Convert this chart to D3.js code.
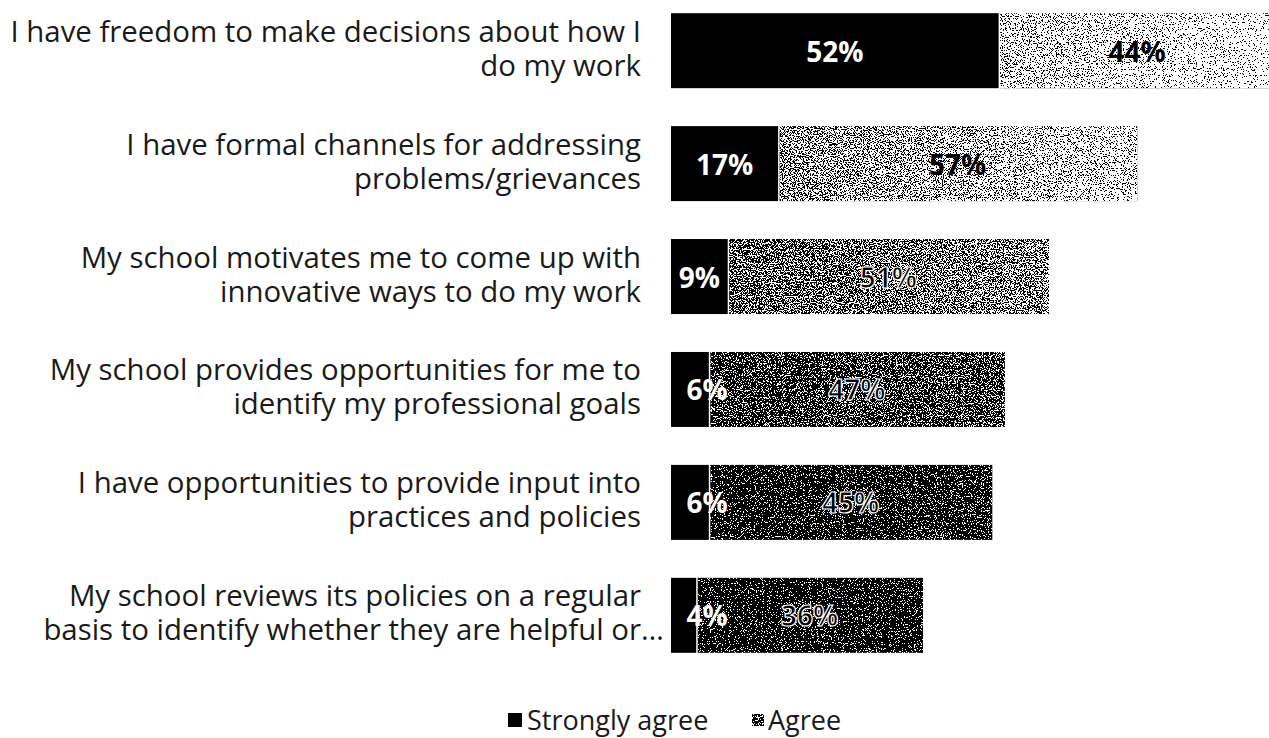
<!DOCTYPE html>
<html>
<head>
<meta charset="utf-8">
<script src="https://cdn.jsdelivr.net/npm/d3@7/dist/d3.min.js"></script>
<style>
  html, body { margin: 0; padding: 0; background: #fff; }
  svg { display: block; }
  text { font-family: "Open Sans", "Noto Sans", sans-serif; }
</style>
</head>
<body>
<svg id="chart" width="1269" height="738"></svg>
<script>
// Survey statements (each split into its two display lines)
const categories = [
  ["I have freedom to make decisions about how I", "do my work"],
  ["I have formal channels for addressing", "problems/grievances"],
  ["My school motivates me to come up with", "innovative ways to do my work"],
  ["My school provides opportunities for me to", "identify my professional goals"],
  ["I have opportunities to provide input into", "practices and policies"],
  ["My school reviews its policies on a regular", "basis to identify whether they are helpful or…"]
];
const stronglyAgree = [52, 17, 9, 6, 6, 4];
const agree = [44, 57, 51, 47, 45, 36];
const seriesNames = ["Strongly agree", "Agree"];
// tone of the stippled "Agree" fill, lighter on the top rows
const agreeTones = [["#b4b4b4", "#e4e4e4"], ["#8a8a8a", "#c4c4c4"], ["#686868", "#888"],
                    ["#484848", "#585858"], ["#2e2e2e", "#3a3a3a"], ["#282828", "#303030"]];

const svg = d3.select("#chart");
const left = 671;

const x = d3.scaleLinear().domain([0, 100]).range([left, left + 630]);
const y = d3.scaleBand().domain(d3.range(categories.length))
  .range([-6, 672]).paddingInner(0.336).paddingOuter(0.17);

const defs = svg.append("defs");

// stipple filter: add noise to the fill and threshold to black/white
const f = defs.append("filter").attr("id", "stipple")
  .attr("x", 0).attr("y", 0).attr("width", 1).attr("height", 1)
  .attr("color-interpolation-filters", "sRGB");
f.append("feTurbulence").attr("type", "fractalNoise").attr("baseFrequency", 0.85)
  .attr("numOctaves", 2).attr("seed", 7).attr("result", "noise");
f.append("feColorMatrix").attr("in", "noise").attr("type", "matrix")
  .attr("values", "1 0 0 0 0  1 0 0 0 0  1 0 0 0 0  0 0 0 0 1").attr("result", "n");
f.append("feComposite").attr("in", "SourceGraphic").attr("in2", "n")
  .attr("operator", "arithmetic").attr("k1", 0).attr("k2", 1).attr("k3", 2.6).attr("k4", -1.3)
  .attr("result", "sum");
const ct = f.append("feComponentTransfer").attr("in", "sum").attr("result", "bw");
["feFuncR", "feFuncG", "feFuncB"].forEach(fn =>
  ct.append(fn).attr("type", "discrete").attr("tableValues", "0 1"));
f.append("feComposite").attr("in", "bw").attr("in2", "SourceGraphic").attr("operator", "in");

agreeTones.forEach((t, i) => {
  const g = defs.append("linearGradient").attr("id", "tone" + i)
    .attr("x1", 0).attr("x2", 1).attr("y1", 0).attr("y2", 0);
  g.append("stop").attr("offset", "0%").attr("stop-color", t[0]);
  g.append("stop").attr("offset", "100%").attr("stop-color", t[1]);
});

// category labels, right-aligned; a trailing ellipsis hangs past the edge
const lab = svg.append("g");
categories.forEach((lines, i) => {
  const cy = y(i) + y.bandwidth() / 2;
  const t = lab.append("text").attr("text-anchor", "end").attr("font-size", 29.4)
    .attr("fill", "#1a1a1a");
  lines.forEach((ln, k) => {
    const ts = t.append("tspan").attr("x", 641).attr("y", cy + (k - 0.5) * 34 - 3)
      .attr("dominant-baseline", "central").text(ln);
    if (ln.endsWith("…")) {
      const w = ts.node().getSubStringLength(ln.length - 1, 1);
      ts.attr("x", 641 + w);
    }
  });
});

const gap = 1.5;
const bars = svg.append("g");

// Strongly agree segments
bars.selectAll("rect.sa").data(stronglyAgree).join("rect").attr("class", "sa")
  .attr("x", x(0)).attr("y", (d, i) => y(i))
  .attr("width", d => x(d) - x(0)).attr("height", y.bandwidth())
  .attr("fill", "#000");

// Agree segments
bars.selectAll("rect.ag").data(agree).join("rect").attr("class", "ag")
  .attr("x", (d, i) => x(stronglyAgree[i]) + gap).attr("y", (d, i) => y(i))
  .attr("width", (d, i) => x(stronglyAgree[i] + d) - x(stronglyAgree[i]) - gap)
  .attr("height", y.bandwidth())
  .attr("fill", (d, i) => `url(#tone${i})`)
  .attr("filter", "url(#stipple)");

// value labels
const vl = svg.append("g").attr("font-weight", 700).attr("font-size", 28)
  .attr("text-anchor", "middle");
stronglyAgree.forEach((v, i) => {
  const w = x(v) - x(0);
  const cx = w < 50 ? x(0) + 36 : (x(0) + x(v)) / 2;
  vl.append("text").attr("x", cx).attr("y", y(i) + y.bandwidth() / 2)
    .attr("dominant-baseline", "central").attr("fill", "#fff").text(v + "%");
});
agree.forEach((v, i) => {
  const s = stronglyAgree[i];
  const t = vl.append("text").attr("x", (x(s) + x(s + v)) / 2)
    .attr("y", y(i) + y.bandwidth() / 2).attr("dominant-baseline", "central")
    .attr("fill", "#000").text(v + "%");
  if (i >= 2) t.attr("stroke", "#fff").attr("stroke-width", 1.2);
});

// legend
const lg = svg.append("g").attr("transform", "translate(508, 719)");
lg.append("rect").attr("x", 0).attr("y", -6).attr("width", 14).attr("height", 14).attr("fill", "#000");
lg.append("text").attr("x", 19).attr("y", 0).attr("dominant-baseline", "central")
  .attr("font-size", 27).attr("fill", "#1a1a1a").text(seriesNames[0]);
lg.append("rect").attr("x", 244).attr("y", -5).attr("width", 12).attr("height", 12)
  .attr("fill", "#555").attr("filter", "url(#stipple)");
lg.append("text").attr("x", 260).attr("y", 0).attr("dominant-baseline", "central")
  .attr("font-size", 27).attr("fill", "#1a1a1a").text(seriesNames[1]);
</script>
</body>
</html>
